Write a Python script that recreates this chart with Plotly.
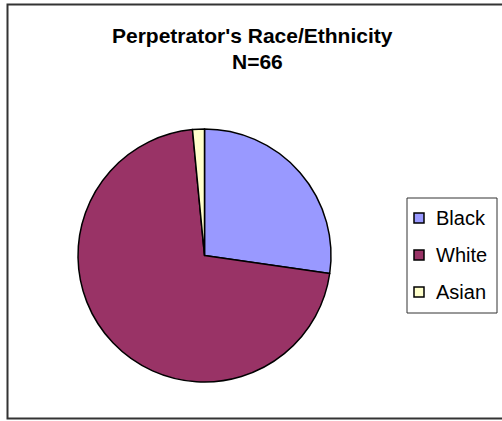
import plotly.graph_objects as go

# Perpetrator race/ethnicity counts (N=66)
labels = ["Black", "White", "Asian"]
counts = [18, 47, 1]
colors = ["#9999FF", "#993366", "#FFFFCC"]
title_lines = ["Perpetrator's Race/Ethnicity", "N=66"]

W, H = 502, 421
FONT = "Liberation Sans, Arial"


def px_x(x):
    return x / W


def px_y(y):
    return 1 - y / H


fig = go.Figure()
fig.add_trace(go.Pie(
    labels=labels,
    values=counts,
    sort=False,
    direction="clockwise",
    rotation=0,
    textinfo="none",
    hoverinfo="label+value+percent",
    marker=dict(colors=colors, line=dict(color="#000000", width=1.5)),
    domain=dict(x=[px_x(78), px_x(331)], y=[px_y(382), px_y(129)]),
    showlegend=False,
))

shapes = [
    # chart area frame
    dict(type="rect", xref="paper", yref="paper",
         x0=px_x(7.5), x1=px_x(506), y0=px_y(418.5), y1=px_y(4.5),
         line=dict(color="#333333", width=2), fillcolor="rgba(0,0,0,0)"),
    # legend frame
    dict(type="rect", xref="paper", yref="paper",
         x0=px_x(407), x1=px_x(497), y0=px_y(313), y1=px_y(198),
         line=dict(color="#333333", width=1), fillcolor="white"),
]

# two-line bold title
annotations = []
for text, xx, yy in zip(title_lines, [252, 257], [36, 61.5]):
    annotations.append(dict(text=f"<b>{text}</b>", xref="paper", yref="paper",
                            x=px_x(xx), y=px_y(yy), xanchor="center", yanchor="middle",
                            showarrow=False,
                            font=dict(family=FONT, size=21, color="#000000")))

# legend entries
row_y = [218, 255, 292]
for lab, col, yy in zip(labels, colors, row_y):
    shapes.append(dict(type="rect", xref="paper", yref="paper",
                       x0=px_x(414), x1=px_x(424), y0=px_y(yy + 5), y1=px_y(yy - 5),
                       line=dict(color="#000000", width=1.5), fillcolor=col))
    annotations.append(dict(text=lab, xref="paper", yref="paper",
                            x=px_x(434), y=px_y(yy), xanchor="left", yanchor="middle",
                            showarrow=False,
                            font=dict(family=FONT, size=20, color="#000000")))

fig.update_layout(
    width=W, height=H,
    margin=dict(l=0, r=0, t=0, b=0),
    paper_bgcolor="white",
    plot_bgcolor="white",
    shapes=shapes,
    annotations=annotations,
)

fig.write_html("out.html")
